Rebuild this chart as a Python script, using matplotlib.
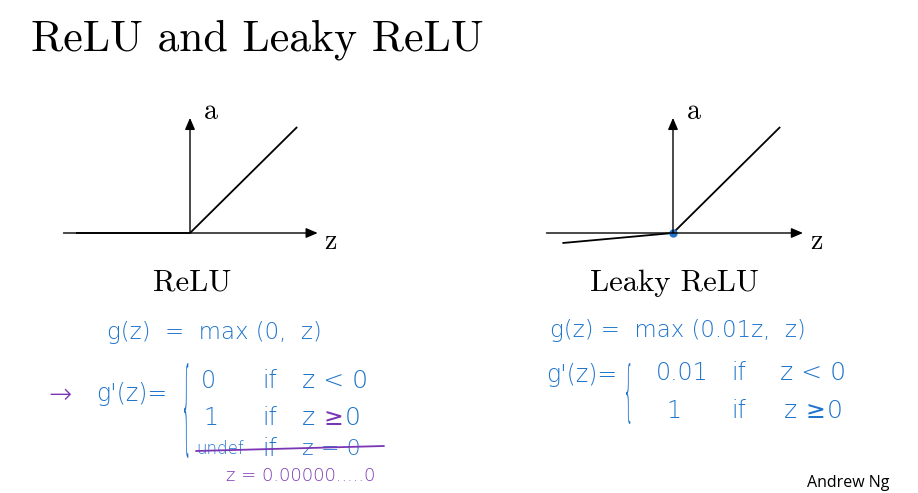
import matplotlib.pyplot as plt
from matplotlib.textpath import TextPath
from matplotlib.patches import PathPatch
from matplotlib.font_manager import FontProperties
import matplotlib.transforms as mtransforms

# curve data (z, a) in plot units
relu_z = [-1.0, 0.0, 0.94]
relu_a = [0.0, 0.0, 0.93]
leaky_z = [-0.97, 0.0, 0.94]
leaky_a = [-0.088, 0.0, 0.93]

titles = ['ReLU', 'Leaky ReLU']
W, H = 918, 493
PX = 114.0  # pixels per plot unit
BLUE = '#1f74cc'
PURPLE = '#7a36b4'
SERIF = 'cmr10'
HAND = ['DejaVu Sans', 'Noto Sans']

fig = plt.figure(figsize=(W / 100, H / 100), dpi=100)

# overlay in pixel coordinates for the slide text
ov = fig.add_axes([0, 0, 1, 1])
ov.set_xlim(0, W)
ov.set_ylim(H, 0)
ov.axis('off')


def plot_axes(ox, oy, z, a, x_tip, dot=False):
    x0, x1, y0, y1 = -1.4, 1.5, -0.35, 1.25
    left = (ox + x0 * PX) / W
    bottom = (H - (oy - y0 * PX)) / H
    ax = fig.add_axes([left, bottom, (x1 - x0) * PX / W, (y1 - y0) * PX / H])
    ax.set_xlim(x0, x1)
    ax.set_ylim(y0, y1)
    ax.axis('off')
    arr = dict(arrowstyle='-|>,head_length=0.7,head_width=0.3', color='black', lw=1.0,
               shrinkA=0, shrinkB=0)
    ax.annotate('', xy=(x_tip, 0), xytext=(-1.11, 0), arrowprops=arr)
    ax.annotate('', xy=(0, 1.01), xytext=(0, 0), arrowprops=arr)
    ax.plot(z, a, color='black', lw=1.3, solid_capstyle='butt')
    if dot:
        ax.plot([0], [0], 'o', color=BLUE, ms=5)
    ax.text(0.12, 1.06, 'a', fontsize=20, family=SERIF, ha='left', va='center')
    ax.text(x_tip + 0.06, -0.08, 'z', fontsize=20, family=SERIF, ha='left', va='center')
    return ax


plot_axes(190, 233, relu_z, relu_a, 1.12)
plot_axes(673, 233, leaky_z, leaky_a, 1.14, dot=True)

ov.text(31, 40, 'ReLU and Leaky ReLU', fontsize=31.5, family=SERIF, ha='left', va='center')
ov.text(192, 283, titles[0], fontsize=22, family=SERIF, ha='center', va='center')
ov.text(674, 283, titles[1], fontsize=22, family=SERIF, ha='center', va='center')
ov.text(848, 483, 'Andrew Ng', fontsize=11.5, family='Open Sans', ha='center', va='center')


def hand(x, y, s, color=BLUE, size=17, weight='light'):
    ov.text(x, y, s, fontsize=size, family=HAND, color=color, ha='left', va='center',
            fontweight=weight)


def brace(x, ytop, ybot, color=BLUE):
    tp = TextPath((0, 0), '{', size=30, prop=FontProperties(family='DejaVu Sans',
                                                              weight='light'))
    bb = tp.get_extents()
    sy = (ybot - ytop) / bb.height
    tr = (mtransforms.Affine2D().translate(-bb.x0, -bb.y0).scale(0.55, -sy)
          .translate(x, ybot) + ov.transData)
    ov.add_patch(PathPatch(tp, transform=tr, facecolor=color, edgecolor='none'))


# left handwriting
hand(107, 332, 'g(z)  =  max (0,  z)', size=16.5)
hand(48, 395, '\u2192', color=PURPLE, size=20)
hand(96, 394, "g'(z)=")
brace(184, 363, 458)
hand(201, 381, '0')
hand(262, 381, 'if')
hand(302, 381, 'z < 0', size=18)
hand(203, 418, '1')
hand(262, 418, 'if')
hand(302, 418, 'z', size=18)
hand(324, 418, '\u2265', color=PURPLE, size=17, weight='normal')
hand(345, 418, '0', size=18)
hand(196, 449, 'undef', size=12)
hand(262, 449, 'if')
hand(302, 449, 'z = 0', size=16)
ov.annotate('', xy=(384, 446), xytext=(196, 451),
            arrowprops=dict(arrowstyle='-', color=PURPLE, lw=1.3, shrinkA=0, shrinkB=0))
hand(226, 476, 'z = 0.00000.....0', color=PURPLE, size=13)

# right handwriting
hand(550, 330, 'g(z) =  max (0.01z,  z)', size=16.5)
hand(546, 375, "g'(z)=")
brace(626, 363, 424)
hand(656, 373, '0.01')
hand(731, 373, 'if')
hand(780, 373, 'z < 0', size=18)
hand(666, 411, '1')
hand(731, 411, 'if')
hand(784, 411, 'z', size=18)
hand(806, 411, '\u2265', size=17, weight='normal')
hand(827, 411, '0', size=18)

fig.savefig('out.png', dpi=100)
